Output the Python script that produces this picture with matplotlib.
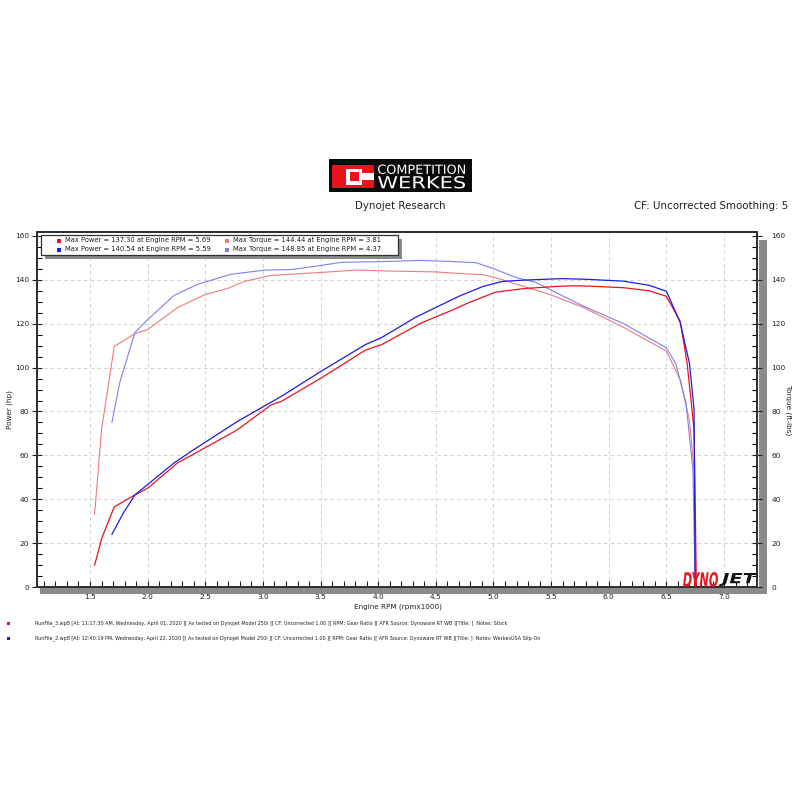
import numpy as np
import matplotlib
matplotlib.use('Agg')
import matplotlib.pyplot as plt
from matplotlib.patches import Rectangle, PathPatch
from matplotlib.textpath import TextPath
from matplotlib.font_manager import FontProperties
from matplotlib.transforms import Affine2D
from matplotlib.ticker import MultipleLocator, FormatStrFormatter

plt.rcParams['font.family'] = ['DejaVu Sans']

# stock run (RunFile_3) - power
rpm_pow_stock = [1.54, 1.60, 1.71, 1.89, 2.00, 2.26, 2.50, 2.78, 3.07, 3.16, 3.51, 3.89,
                 4.03, 4.38, 4.62, 4.79, 5.02, 5.26, 5.55, 5.69, 5.84, 6.13, 6.35, 6.50,
                 6.62, 6.68, 6.74, 6.75, 6.76]
hp_stock = [10, 22, 36.5, 42, 45, 56.6, 63.5, 71.7, 83, 84.6, 95.4, 108,
            110.5, 120.5, 125.7, 129.7, 134.4, 136, 137.0, 137.3, 137.1, 136.4, 135, 132.5,
            121, 102, 71.7, 38, 0]

# slip-on run (RunFile_2) - power
rpm_pow_mod = [1.69, 1.79, 1.89, 2.23, 2.40, 2.78, 3.16, 3.51, 3.89, 4.03, 4.32, 4.50,
               4.70, 4.91, 5.08, 5.28, 5.59, 5.78, 6.13, 6.35, 6.50, 6.62, 6.70, 6.74, 6.75]
hp_mod = [24, 33.8, 42, 56.6, 62.6, 75.5, 86.9, 98.5, 110.5, 113.7, 122.8, 127.4,
          132.5, 137, 139.3, 139.9, 140.54, 140.3, 139.4, 137.5, 134.8, 120.5, 102, 80.8, 0]

# torque
rpm_tq_stock = [1.54, 1.60, 1.71, 1.89, 2.00, 2.26, 2.50, 2.69, 2.84, 3.07, 3.51, 3.81,
                4.03, 4.50, 4.73, 4.91, 5.02, 5.20, 5.49, 5.78, 6.13, 6.50, 6.62, 6.70,
                6.74, 6.75]
tq_stock = [33.3, 71.7, 109.6, 115.5, 117.3, 127.4, 133.3, 136, 139.3, 142, 143.4, 144.44,
            144.1, 143.6, 142.8, 142.3, 141, 138, 133.3, 127.4, 118.3, 107.5, 94.5, 76,
            53.4, 0]

rpm_tq_mod = [1.69, 1.76, 1.89, 2.00, 2.23, 2.43, 2.72, 3.01, 3.25, 3.51, 3.68, 4.03,
              4.37, 4.62, 4.85, 5.02, 5.20, 5.37, 5.55, 5.78, 6.13, 6.50, 6.58, 6.67,
              6.73, 6.75]
tq_mod = [75, 93.7, 116, 121.9, 132.9, 137.9, 142.5, 144.4, 144.7, 146.6, 148.0, 148.3,
          148.85, 148.4, 147.8, 144.7, 141, 138.8, 134, 128, 120, 109, 102, 84,
          53.4, 0]

legend_labels = ['Max Power = 137.30 at Engine RPM = 5.69',
                 'Max Power = 140.54 at Engine RPM = 5.59',
                 'Max Torque = 144.44 at Engine RPM = 3.81',
                 'Max Torque = 148.85 at Engine RPM = 4.37']

footer = ['RunFile_3.wp8 [At: 11:17:30 AM, Wednesday, April 01, 2020 ][ As tested on Dynojet Model 250i ][ CF: Uncorrected 1.00 ][ RPM: Gear Ratio ][ AFR Source: Dynoware RT WB ][Title: ]  Notes: Stock',
          'RunFile_2.wp8 [At: 12:40:19 PM, Wednesday, April 22, 2020 ][ As tested on Dynojet Model 250i ][ CF: Uncorrected 1.00 ][ RPM: Gear Ratio ][ AFR Source: Dynoware RT WB ][Title: ]  Notes: WerkesUSA Slip-On']

c_red = '#e8141c'
c_blue = '#1c1ce0'
c_lred = '#f07a7a'
c_lblue = '#7f7ff0'

W = 800.0
def fx(x):
	return x / W
def fy(y):
	return 1 - y / W

fig = plt.figure(figsize=(8, 8), dpi=100)
fig.patch.set_facecolor('white')

def box(x0, y0, x1, y1, color, z=1, ec='none', lw=0):
	# rectangle given in pixel coords, origin top-left
	fig.add_artist(Rectangle((fx(x0), fy(y1)), (x1 - x0) / W, (y1 - y0) / W, transform=fig.transFigure,
	                         facecolor=color, edgecolor=ec, linewidth=lw, zorder=z))

def fit_text(s, x0, y0, x1, y1, color, prop):
	# text stretched to fill a pixel box
	tp = TextPath((0, 0), s, size=10, prop=prop)
	bb = tp.get_extents()
	tr = Affine2D().translate(-bb.x0, -bb.y0).scale((x1 - x0) / bb.width / W, (y1 - y0) / bb.height / W) \
		.translate(x0 / W, 1 - y1 / W) + fig.transFigure
	fig.add_artist(PathPatch(tp, transform=tr, facecolor=color, edgecolor='none', zorder=8))

# gray 3d shadow of plot frame
box(40, 588, 767, 594, '#8a8a8a', z=0)
box(759, 240, 767, 594, '#8a8a8a', z=0)

ax = fig.add_axes([fx(37), fy(587), 720 / W, 355 / W])
ax2 = ax.twinx()

ax.set_xlim(1.040, 7.286)
ax.set_ylim(0, 161.8)
ax2.set_ylim(0, 161.8)

ax.plot(rpm_tq_stock, tq_stock, color=c_lred, lw=0.8, zorder=3)
ax.plot(rpm_tq_mod, tq_mod, color=c_lblue, lw=0.8, zorder=3)
ax.plot(rpm_pow_stock, hp_stock, color=c_red, lw=0.9, zorder=4)
ax.plot(rpm_pow_mod, hp_mod, color=c_blue, lw=0.9, zorder=4)

# grid
for gx in np.arange(1.5, 7.01, 0.5):
	ax.axvline(gx, color='#c8c8c8', lw=0.6, ls=(0, (4, 4)), zorder=1)
for gy in range(20, 141, 20):
	ax.axhline(gy, color='#c8c8c8', lw=0.6, ls=(0, (4, 4)), zorder=1)

ax.xaxis.set_major_locator(MultipleLocator(0.5))
ax.xaxis.set_minor_locator(MultipleLocator(0.1))
ax.xaxis.set_major_formatter(FormatStrFormatter('%.1f'))
for a in (ax, ax2):
	a.yaxis.set_major_locator(MultipleLocator(20))
	a.yaxis.set_minor_locator(MultipleLocator(5))
	for s in a.spines.values():
		s.set_linewidth(1.4)
		s.set_color('#303030')

ax.tick_params(axis='x', which='both', direction='in', length=4.5, width=0.8,
               labelsize=5.3, pad=5, colors='#202020')
ax.tick_params(axis='y', which='major', direction='inout', length=7, width=0.8,
               labelsize=5.3, pad=2, colors='#202020')
ax.tick_params(axis='y', which='minor', direction='in', length=3.5, width=0.8)
ax2.tick_params(axis='y', which='major', direction='inout', length=7, width=0.8,
                labelsize=5.3, pad=7, colors='#202020')
ax2.tick_params(axis='y', which='minor', direction='in', length=3.5, width=0.8)

fig.text(fx(398), fy(606.5), 'Engine RPM (rpmx1000)', fontsize=5.2, ha='center', va='center', color='#202020')
fig.text(fx(10), fy(410), 'Power (hp)', fontsize=5.2, rotation=90, ha='center', va='center', color='#202020')
fig.text(fx(788), fy(410), 'Torque (ft-lbs)', fontsize=5.2, rotation=270, ha='center', va='center', color='#202020')

# legend box with shadow
box(45, 239, 402, 259, '#8a8a8a', z=5)
box(41, 235, 398, 255, 'white', z=6, ec='#303030', lw=0.9)
leg_cols = [c_red, c_blue, c_lred, c_lblue]
leg_x = [57, 57, 225, 225]
leg_y = [240.5, 249.5, 240.5, 249.5]
for c, lx, ly, lab in zip(leg_cols, leg_x, leg_y, legend_labels):
	box(lx, ly - 2, lx + 4, ly + 2, c, z=7)
	fig.text(fx(lx + 8), fy(ly), lab, fontsize=4.9, ha='left', va='center', color='#202020', zorder=7)

# DYNOJET mark
fp_bi = FontProperties(family='DejaVu Sans', weight='bold', style='italic')
fit_text('DYNO', 683, 572, 718, 587, '#e81820', fp_bi)
fit_text('JET', 719, 573, 757, 586, '#111111', fp_bi)

# header logo
box(329, 159, 472, 192, '#0a0a0a', z=1)
box(332, 165, 374, 188, c_red, z=2)
box(346, 168.5, 362, 184.5, 'white', z=3)
box(362, 173, 374, 180, 'white', z=3)
box(349.5, 172, 358.5, 181, c_red, z=4)
fp_logo = FontProperties(family='DejaVu Sans')
fit_text('COMPETITION', 378, 164.5, 465, 174, 'white', fp_logo)
fit_text('WERKES', 378, 176, 465, 188.5, 'white', fp_logo)

fig.text(fx(400), fy(206), 'Dynojet Research', fontsize=7.4, ha='center', va='center', color='#202020')
fig.text(fx(788), fy(206), 'CF: Uncorrected Smoothing: 5', fontsize=7.4, ha='right', va='center', color='#202020')

# footer
for i, (c, txt) in enumerate(zip((c_red, c_blue), footer)):
	yy = 623 + 15 * i
	box(7, yy - 1.5, 10, yy + 1.5, c, z=2)
	fig.text(fx(35), fy(yy), txt, fontsize=3.55, ha='left', va='center', color='#202020')

plt.savefig('out.png', dpi=100)
